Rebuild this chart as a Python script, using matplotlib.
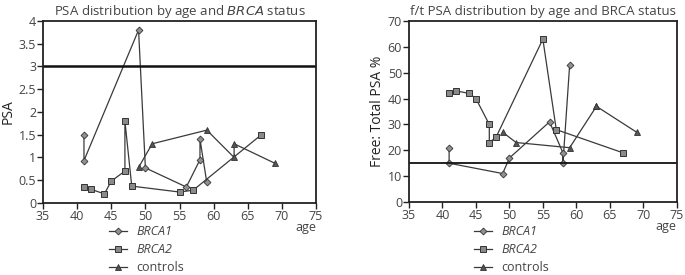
import matplotlib
matplotlib.use("Agg")
import matplotlib.pyplot as plt
import numpy as np

plt.rcParams['font.family'] = ['Open Sans', 'DejaVu Sans']

# PSA panel
brca1_age = [41, 41, 49, 50, 56, 58, 58, 59]
brca1_psa = [1.5, 0.93, 3.8, 0.77, 0.35, 0.95, 1.4, 0.45]
brca2_age = [41, 42, 44, 45, 47, 47, 48, 55, 57, 67]
brca2_psa = [0.35, 0.3, 0.2, 0.48, 0.7, 1.8, 0.37, 0.24, 0.28, 1.5]
ctrl_age = [49, 51, 59, 63, 63, 69]
ctrl_psa = [0.78, 1.3, 1.6, 1.0, 1.3, 0.87]

# free/total PSA panel
brca1_ft = [21, 15, 11, 17, 31, 19, 15, 53]
brca2_ft = [42, 43, 42, 40, 30, 23, 25, 63, 28, 19]
ctrl_ft = [27, 23, 21, 37, 37, 27]

line_col = '#3a3a3a'
text_col = '#444444'

fig = plt.figure(figsize=(6.85, 2.75), dpi=100)
ax1 = fig.add_axes([0.0628, 0.262, 0.3985, 0.662])
ax2 = fig.add_axes([0.597, 0.2655, 0.391, 0.658])


def draw(ax, y1, y2, y3):
    ax.plot(brca1_age, y1, color=line_col, lw=0.9, marker='D', ms=3.5,
            mfc='#909090', mec='#333333', mew=0.6, label='BRCA1')
    ax.plot(brca2_age, y2, color=line_col, lw=0.9, marker='s', ms=5,
            mfc='#8a8a8a', mec='#333333', mew=0.7, label='BRCA2')
    ax.plot(ctrl_age, y3, color=line_col, lw=0.9, marker='^', ms=5,
            mfc='#555555', mec='#333333', mew=0.6, label='controls')
    ax.set_xlim(35, 75)
    ax.set_xticks(np.arange(35, 80, 5))
    for s in ax.spines.values():
        s.set_linewidth(1.3)
        s.set_color('#222222')
    ax.tick_params(direction='out', length=4, width=1, colors='#222222',
                   labelcolor=text_col, labelsize=9, pad=1)
    ax.text(1.0, -0.135, 'age', transform=ax.transAxes, ha='right', va='center',
            fontsize=9, color=text_col)


draw(ax1, brca1_psa, brca2_psa, ctrl_psa)
ax1.set_ylim(0, 4)
ax1.set_yticks([0, 0.5, 1, 1.5, 2, 2.5, 3, 3.5, 4])
ax1.set_yticklabels(['0', '0.5', '1', '1.5', '2', '2.5', '3', '3.5', '4'])
ax1.axhline(3, color='#111111', lw=1.8)
ax1.set_ylabel('PSA', fontsize=10, color='#222222', labelpad=2)
ax1.set_title('PSA distribution by age and $\\it{BRCA}$ status', fontsize=9.5,
              color=text_col, pad=4)

draw(ax2, brca1_ft, brca2_ft, ctrl_ft)
ax2.set_ylim(0, 70)
ax2.set_yticks(np.arange(0, 80, 10))
ax2.axhline(15, color='#111111', lw=1.3)
ax2.set_ylabel('Free: Total PSA %', fontsize=10, color='#222222', labelpad=2)
ax2.set_title('f/t PSA distribution by age and BRCA status', fontsize=9.5,
              color=text_col, pad=4)

for ax, x0 in [(ax1, 0.15), (ax2, 0.683)]:
    leg = ax.legend(loc='upper left', bbox_to_anchor=(x0, 0.205),
                    bbox_transform=fig.transFigure, frameon=False,
                    fontsize=9, handlelength=1.4, handletextpad=0.8,
                    labelspacing=0.4, borderpad=0)
    for t in leg.get_texts():
        t.set_color(text_col)
        if t.get_text() != 'controls':
            t.set_fontstyle('italic')

fig.savefig('out.png', dpi=100)
